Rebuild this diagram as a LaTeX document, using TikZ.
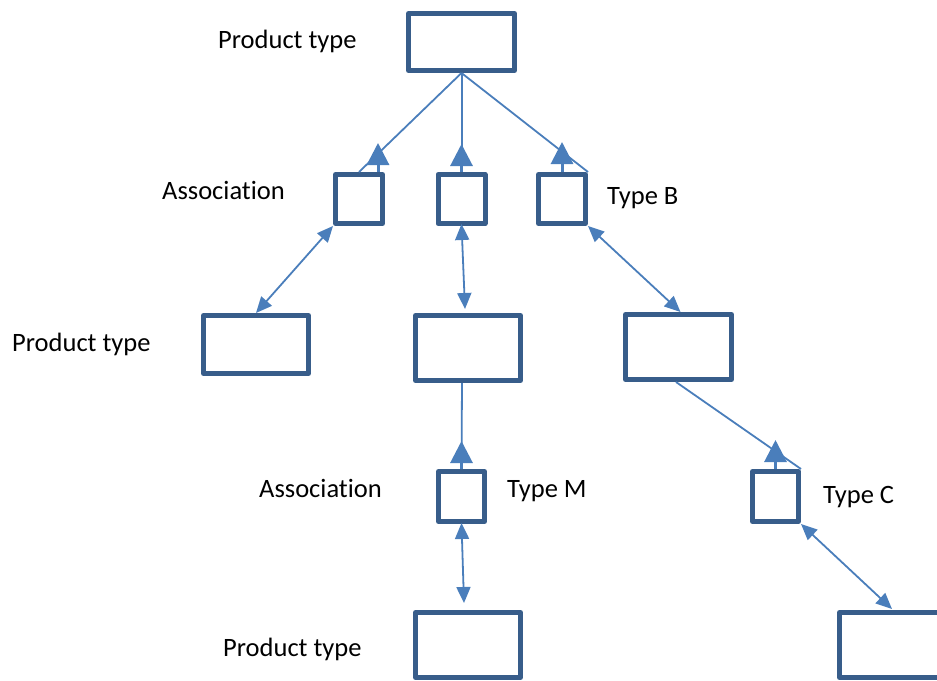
\documentclass[tikz,border=0pt]{standalone}
\usepackage{fontspec}
\setmainfont{Carlito}[Ligatures={NoCommon}]
\usetikzlibrary{arrows.meta}
\definecolor{boxline}{HTML}{385D8A}
\definecolor{linkline}{HTML}{4A7EBB}
\begin{document}
\begin{tikzpicture}[x=1pt,y=-1pt,
  entity/.style={draw=boxline,line width=5pt,line join=round,fill=white,inner sep=0pt},
  bigbox/.style={entity,minimum width=105pt,minimum height=65pt},
  smallbox/.style={entity,minimum width=46pt,minimum height=50pt},
  link/.style={draw=linkline,line width=1.8pt},
  stubarrow/.style={link,line width=3pt,-{Triangle[length=22pt,width=22pt]}},
  assoc/.style={link,{Triangle[length=16pt,width=14pt]}-{Triangle[length=16pt,width=14pt]}},
  lbl/.style={anchor=base west,inner sep=0pt,font=\fontsize{26.5}{31}\selectfont}
]
\useasboundingbox (0,0) rectangle (937,680);
\clip (0,0) rectangle (937,680);

% boxes
\node[bigbox,minimum width=106pt,minimum height=57pt] (top) at (461.5,42) {};
\node[smallbox,minimum width=47pt,minimum height=49pt] (a1) at (359,199) {};
\node[smallbox,minimum width=47pt,minimum height=49pt] (a2) at (461.5,199) {};
\node[smallbox,minimum width=47pt,minimum height=49pt] (a3) at (562,199) {};
\node[bigbox,minimum height=58pt] (pL) at (256,344.5) {};
\node[bigbox] (pM) at (468,348) {};
\node[bigbox,minimum width=106pt] (pR) at (678.5,347) {};
\node[smallbox] (aM) at (461.5,496.5) {};
\node[smallbox] (aC) at (775.5,496.5) {};
\node[bigbox] (pB) at (468,645) {};
\node[bigbox] (pBR) at (892,645) {};

% links from the root type to its associations
\draw[link] (top.south) -- (a1.north);
\draw[link] ([xshift=0.5pt]top.south) -- ([xshift=0.5pt]a2.north);
\draw[link] (top.south) -- (a3.north east);
\draw[stubarrow] ([xshift=19pt]a1.north) -- ++(0,-29);
\draw[stubarrow] (a2.north) -- ++(0,-28);
\draw[stubarrow] (a3.north) -- ++(0,-30);

% associations to product types
\draw[assoc] (a1.south west) -- (pL.north);
\draw[assoc] ([yshift=2pt]a2.south) -- ([xshift=-3pt,yshift=4pt]pM.north);
\draw[assoc] (a3.south east) -- ([xshift=2pt]pR.north);

% second level
\draw[link] ([xshift=-6pt]pM.south) -- (aM.north);
\draw[stubarrow] (aM.north) -- ++(0,-28);
\draw[assoc] ([yshift=1pt]aM.south) -- ([xshift=-4pt,yshift=7pt]pB.north);
\draw[link] ([xshift=-2.5pt]pR.south) -- (aC.north east);
\draw[stubarrow] (aC.north) -- ++(0,-29);
\draw[assoc] (aC.south east) -- ([yshift=1pt]pBR.north);

% labels
\node[lbl] (t1) at (218,48) {Product type};
\node[lbl] (t2) at (162,199) {Association};
\node[lbl] (t3) at (607,204) {Type B};
\node[lbl] (t4) at (12,351) {Product type};
\node[lbl] (t5) at (259,497) {Association};
\node[lbl] (t6) at (507,497) {Type M};
\node[lbl] (t7) at (823,503) {Type C};
\node[lbl] (t8) at (223,656) {Product type};
\end{tikzpicture}
\end{document}
